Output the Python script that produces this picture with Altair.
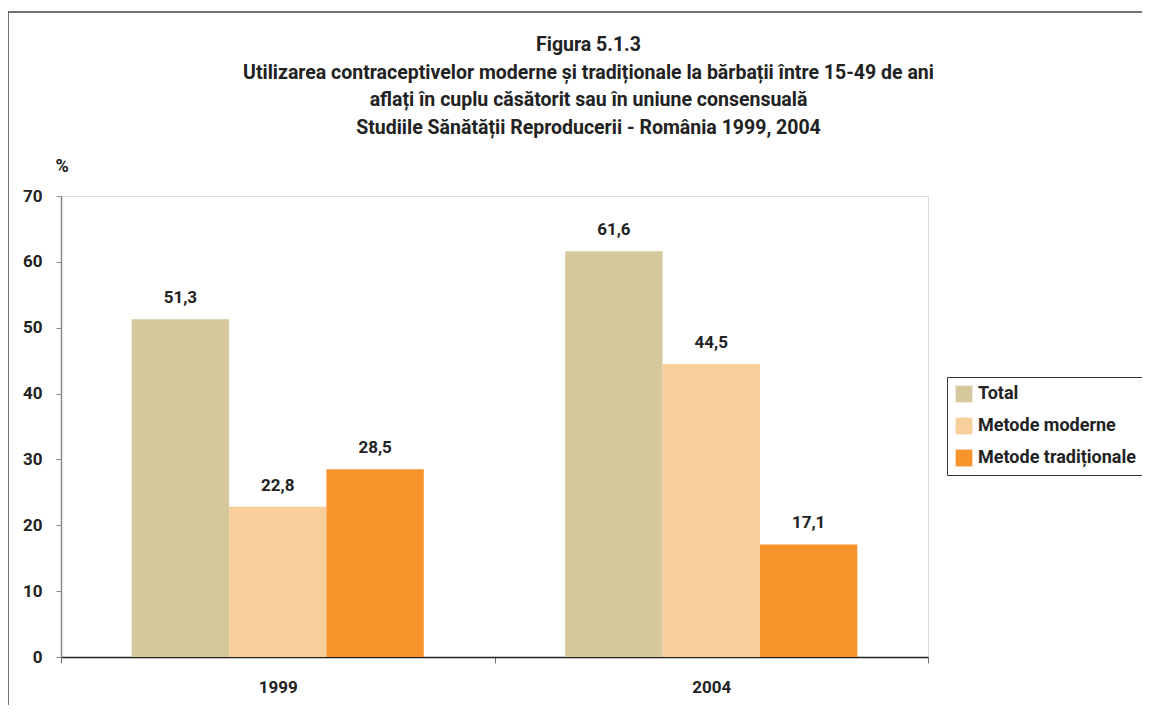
import altair as alt
import pandas as pd

years = ["1999", "2004"]
series = ["Total", "Metode moderne", "Metode tradiționale"]
total = [51.3, 61.6]
moderne = [22.8, 44.5]
traditionale = [28.5, 17.1]
colors = ["#D5C99B", "#F8CE9A", "#F6932B"]
y_ticks = [0, 10, 20, 30, 40, 50, 60, 70]

rows = []
for i, yr in enumerate(years):
    for s, vals in zip(series, [total, moderne, traditionale]):
        v = vals[i]
        rows.append({"An": yr, "Serie": s, "Valoare": v,
                     "Eticheta": f"{v:.1f}".replace(".", ",")})
df = pd.DataFrame(rows)

FONT = "Roboto, Liberation Sans, sans-serif"
W, H = 867, 461

x_enc = alt.X("An:N", title=None, sort=years,
              scale=alt.Scale(paddingInner=0, paddingOuter=0),
              axis=alt.Axis(labelAngle=0, labelFontSize=17, labelFontWeight="bold",
                            labelColor="#222", labelPadding=16, tickBand="extent",
                            tickSize=6, tickColor="#777", domainColor="#222",
                            domainWidth=1.5, labelFont=FONT))
xo_enc = alt.XOffset("Serie:N", sort=series,
                     scale=alt.Scale(paddingInner=0, paddingOuter=0.726))
y_enc = alt.Y("Valoare:Q", scale=alt.Scale(domain=[0, 70], nice=False),
              axis=alt.Axis(values=y_ticks, grid=False, labelFontSize=17,
                            labelFontWeight="bold", labelColor="#222", labelFont=FONT,
                            labelPadding=14, tickSize=5, tickColor="#888",
                            domainColor="#888", domainWidth=1.5,
                            title="%", titleAngle=0, titleX=-6, titleY=-30,
                            titleAlign="left", titleBaseline="middle",
                            titleFontSize=18, titleFont=FONT, titleFontWeight="bold",
                            titleColor="#222"))

bars = alt.Chart(df).mark_bar().encode(
    x=x_enc, xOffset=xo_enc, y=y_enc,
    color=alt.Color("Serie:N", sort=series,
                    scale=alt.Scale(domain=series, range=colors),
                    legend=alt.Legend(title=None, orient="none", legendX=886, legendY=181,
                                      labelFontSize=18, labelFontWeight="bold",
                                      labelColor="#222", labelFont=FONT,
                                      symbolType="square", symbolSize=280,
                                      symbolStrokeWidth=0, rowPadding=14,
                                      strokeColor="#333", padding=8,
                                      labelOffset=5, labelLimit=400)),
)

labels = alt.Chart(df).mark_text(dy=-12, baseline="bottom", fontSize=17,
                                 fontWeight="bold", color="#222", font=FONT).encode(
    x=alt.X("An:N", sort=years), xOffset=xo_enc, y="Valoare:Q", text="Eticheta:N")

frame = alt.Chart(pd.DataFrame({"a": [0]})).mark_rect(
    fill=None, stroke="#444", strokeWidth=1.5).encode(
    x=alt.value(-53), x2=alt.value(1200), y=alt.value(-184), y2=alt.value(600))

chart = alt.layer(frame, bars, labels).properties(
    width=W, height=H,
    title=alt.TitleParams(
        text=["Figura 5.1.3",
              "Utilizarea contraceptivelor moderne și tradiționale la bărbații între 15-49 de ani",
              "aflați în cuplu căsătorit sau în uniune consensuală",
              "Studiile Sănătății Reproducerii - România 1999, 2004"],
        fontSize=19.5, font=FONT, fontWeight="bold", color="#222",
        lineHeight=27.5, anchor="middle", frame="group", dx=94, offset=-127),
    autosize=alt.AutoSizeParams(type="none"),
    padding={"left": 53, "top": 188, "right": 214, "bottom": 48},
).configure_view(strokeWidth=0, stroke="transparent").configure(font=FONT)

chart.save("out.html", embed_options={"renderer": "svg", "actions": False})
